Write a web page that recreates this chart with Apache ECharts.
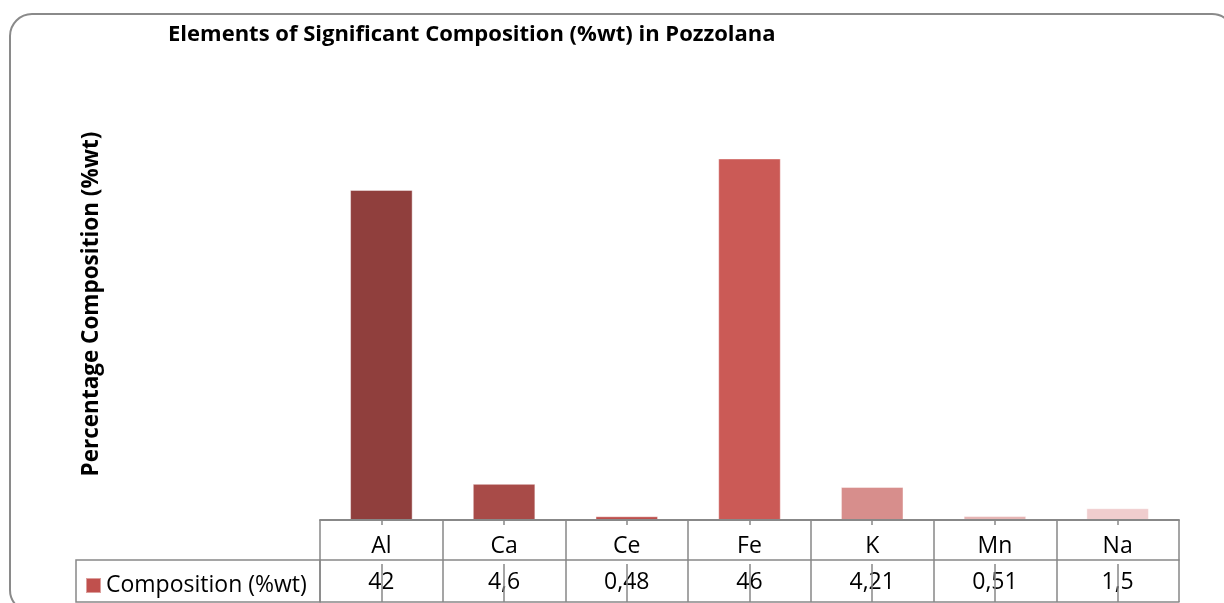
<!DOCTYPE html>
<html>
<head>
<meta charset="utf-8">
<script src="https://cdn.jsdelivr.net/npm/echarts@6/dist/echarts.min.js"></script>
<style>
  html, body { margin: 0; padding: 0; background: #fff; }
  #chart { width: 1224px; height: 603px; }
</style>
</head>
<body>
<div id="chart"></div>
<script>
const elements = ['Al', 'Ca', 'Ce', 'Fe', 'K', 'Mn', 'Na'];
const composition = [42, 4.6, 0.48, 46, 4.21, 0.51, 1.5];
const barColors = ['#903F3D', '#A84B48', '#BE504D', '#CB5A56', '#D78E8C', '#E6B5B4', '#F0CDCE'];
const seriesName = 'Composition (%wt)';

const lineGrey = '#888888';
const font = 'Open Sans';

// values row of the data table, with comma decimals
const valueLabels = composition.map(v => String(v).replace('.', ','));

const myChart = echarts.init(document.getElementById('chart'));

const option = {
  animation: false,
  textStyle: { fontFamily: font },
  title: {
    text: 'Elements of Significant Composition (%wt) in Pozzolana',
    left: 163,
    top: 19,
    textStyle: { fontFamily: font, fontSize: 22, fontWeight: 'bold', color: '#000' }
  },
  legend: {
    left: 80,
    top: 569,
    icon: 'rect',
    itemWidth: 15,
    itemHeight: 15,
    itemGap: 6,
    textStyle: { fontFamily: font, fontSize: 23, color: '#000' },
    data: [seriesName]
  },
  grid: { left: 320, right: 45, top: 127, bottom: 83 },
  xAxis: [
    {
      type: 'category',
      data: elements,
      z: 5,
      axisLine: { lineStyle: { color: lineGrey, width: 2 } },
      axisTick: { alignWithLabel: true, inside: true, length: 7, lineStyle: { color: lineGrey, width: 1.5 } },
      axisLabel: { margin: 15, fontSize: 23, color: '#000', fontFamily: font }
    },
    {
      // table cell borders between categories
      type: 'category',
      data: elements,
      position: 'bottom',
      axisLine: { show: false },
      axisTick: { show: true, length: 82, lineStyle: { color: lineGrey, width: 1.5 } },
      axisLabel: { show: false }
    },
    {
      // short centre ticks below the axis line
      type: 'category',
      data: elements,
      position: 'bottom',
      z: 5,
      axisLine: { show: false },
      axisTick: { show: true, alignWithLabel: true, length: 5, lineStyle: { color: lineGrey, width: 1.5 } },
      axisLabel: { show: false }
    },
    {
      // values row
      type: 'category',
      data: valueLabels,
      position: 'bottom',
      offset: 40,
      z: 5,
      axisLine: { lineStyle: { color: lineGrey, width: 1.5 } },
      axisTick: { show: false },
      axisLabel: { margin: 11, fontSize: 23, color: '#000', fontFamily: font }
    },
    {
      // bottom border of the table, with centre lines running up through the values row
      type: 'category',
      data: elements,
      position: 'bottom',
      offset: 82,
      z: 6,
      axisLine: { lineStyle: { color: lineGrey, width: 1.5 } },
      axisTick: { show: true, alignWithLabel: true, inside: true, length: 38, lineStyle: { color: lineGrey, width: 1.5 } },
      axisLabel: { show: false }
    }
  ],
  yAxis: {
    type: 'value',
    min: 0,
    max: 50,
    show: false
  },
  graphic: [
    {
      type: 'rect',
      silent: true,
      shape: { x: 10, y: 14, width: 1224, height: 598, r: 22 },
      style: { fill: null, stroke: '#8a8a8a', lineWidth: 2 }
    },
    {
      type: 'rect',
      silent: true,
      shape: { x: 76, y: 560, width: 244, height: 42 },
      style: { fill: null, stroke: lineGrey, lineWidth: 1.5 }
    },
    {
      type: 'text',
      silent: true,
      x: 92,
      y: 304,
      rotation: Math.PI / 2,
      style: {
        text: 'Percentage Composition (%wt)',
        fontFamily: font,
        fontSize: 22.5,
        fontWeight: 'bold',
        fill: '#000',
        align: 'center',
        verticalAlign: 'middle'
      }
    }
  ],
  series: [
    {
      name: seriesName,
      type: 'bar',
      xAxisIndex: 0,
      yAxisIndex: 0,
      barWidth: '51%',
      itemStyle: { color: '#C0504D', borderColor: 'rgba(255,255,255,0.45)', borderWidth: 1 },
      data: composition.map((v, i) => ({ value: v, itemStyle: { color: barColors[i] } }))
    }
  ]
};

myChart.setOption(option);
</script>
</body>
</html>
